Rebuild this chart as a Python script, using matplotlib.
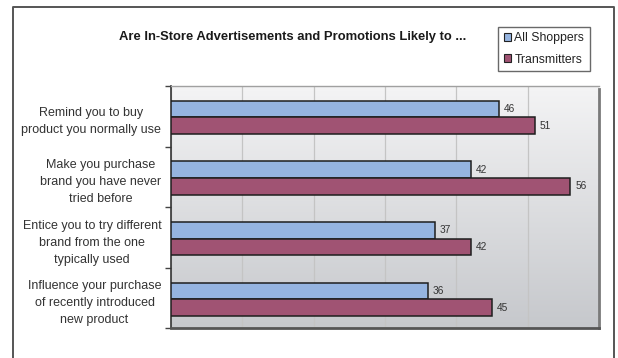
import numpy as np
import matplotlib
matplotlib.use("Agg")
import matplotlib.pyplot as plt
from matplotlib.patches import Rectangle
from matplotlib.lines import Line2D

categories = [
    "Remind you to buy\nproduct you normally use",
    "Make you purchase\nbrand you have never\ntried before",
    "Entice you to try different\nbrand from the one\ntypically used",
    "Influence your purchase\nof recently introduced\nnew product",
]
all_shoppers = [46, 42, 37, 36]
transmitters = [51, 56, 42, 45]
series_names = ["All Shoppers", "Transmitters"]
title = "Are In-Store Advertisements and Promotions Likely to ..."

blue = "#95b4e0"
mauve = "#a05373"
text_col = "#333333"

plt.rcParams["font.family"] = ["Liberation Sans", "DejaVu Sans"]

fig = plt.figure(figsize=(6.18, 3.58), dpi=100)
fig.patch.set_facecolor("white")
ax = fig.add_axes([171 / 618, 1 - 328.3 / 358, 428 / 618, 242.3 / 358])

# gradient background of the plot area
grad = np.linspace(0, 1, 256).reshape(-1, 1)
ax.imshow(grad, cmap=matplotlib.colors.LinearSegmentedColormap.from_list(
    "bg", ["#f4f4f5", "#c6c8cc"]), aspect="auto",
    extent=[0, 60, 4, 0], zorder=0)

y = np.arange(len(categories)) + 0.52
h = 0.275
b1 = ax.barh(y - h / 2, all_shoppers, height=h, color=blue,
             edgecolor="#1e1e1e", linewidth=1.1, zorder=3)
b2 = ax.barh(y + h / 2, transmitters, height=h, color=mauve,
             edgecolor="#1e1e1e", linewidth=1.1, zorder=3)

for bars, vals in ((b1, all_shoppers), (b2, transmitters)):
    for bar, v in zip(bars, vals):
        ax.annotate(str(v), (v, bar.get_y() + bar.get_height() / 2),
                    xytext=(3.5, 0), textcoords="offset points",
                    va="center", ha="left", fontsize=7.3, color=text_col)

ax.set_xlim(0, 60)
ax.set_ylim(4, 0)
ax.set_xticks(np.arange(0, 61, 10))
ax.tick_params(axis="x", length=0, labelbottom=False)
ax.grid(axis="x", color="#c4c4c4", linewidth=0.9, zorder=1)

ax.set_yticks(y)
ax.set_yticklabels(categories, fontsize=9, color=text_col,
                   multialignment="center", linespacing=1.55)
ax.tick_params(axis="y", which="major", length=0, pad=7)
ax.set_yticks(np.arange(0, 5), minor=True)
ax.tick_params(axis="y", which="minor", length=4, width=1, color="#444444")

for s in ("right", "bottom"):
    ax.spines[s].set_visible(False)
ax.spines["top"].set_color("#a0a0a0")
ax.spines["top"].set_linewidth(1.0)
ax.spines["left"].set_color("#333333")
ax.spines["left"].set_linewidth(1.2)

# shadow along right and bottom of plot area
ax.plot([60, 60], [0.05, 4], color="#7a7a7a", lw=2, clip_on=False, zorder=4)
ax.plot([0, 60], [4, 4], color="#555555", lw=2, clip_on=False, zorder=4)

fig.text(293 / 618, 1 - 37 / 358, title, ha="center", va="center",
         fontsize=9.4, fontweight="bold", color="#1a1a1a")

handles = [Rectangle((0, 0), 1, 1, facecolor=blue, edgecolor="#222222", lw=0.8),
           Rectangle((0, 0), 1, 1, facecolor=mauve, edgecolor="#222222", lw=0.8)]
leg = fig.legend(handles, series_names, loc="upper left",
                 bbox_to_anchor=(498 / 618, 1 - 27 / 358),
                 fontsize=8.8, frameon=True, fancybox=False,
                 handlelength=0.65, handleheight=0.65, handletextpad=0.25,
                 labelspacing=0.75, borderpad=0.45, borderaxespad=0)
leg.get_frame().set_edgecolor("#444444")
leg.get_frame().set_linewidth(1.0)
for t in leg.get_texts():
    t.set_color("#222222")

# outer frame
fig.add_artist(Line2D([13 / 618, 13 / 618, 614 / 618, 614 / 618],
                      [0, 1 - 7 / 358, 1 - 7 / 358, 0],
                      transform=fig.transFigure, color="#555555", lw=1.4))

fig.savefig("out.png", dpi=100)
